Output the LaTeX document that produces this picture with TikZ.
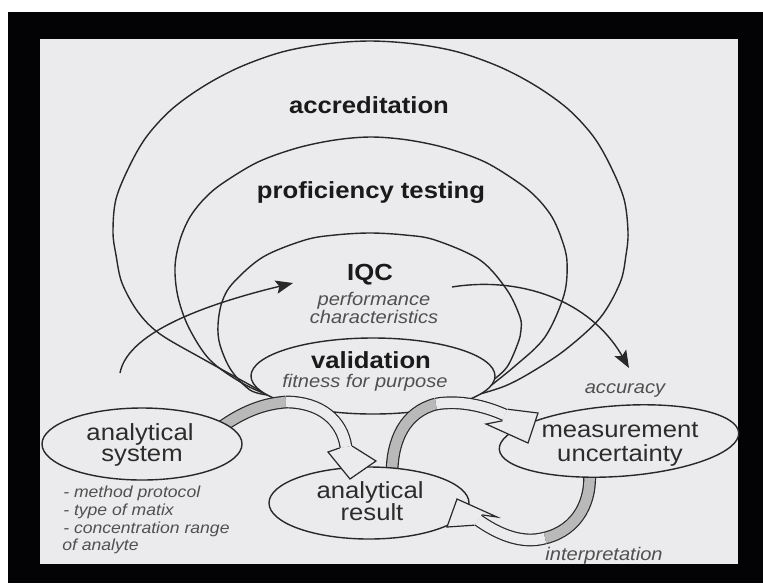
\documentclass[tikz,border=0pt]{standalone}
\usepackage{fontspec}
\setmainfont{Liberation Sans}[FakeStretch=1.1]
\usetikzlibrary{shapes.geometric, arrows.meta}

\definecolor{panel}{RGB}{235,235,237}
\definecolor{frame}{RGB}{3,3,5}
\definecolor{ink}{RGB}{40,40,40}
\definecolor{band}{RGB}{185,185,185}
\definecolor{titleink}{RGB}{26,26,26}
\definecolor{bodyink}{RGB}{44,44,44}
\definecolor{noteink}{RGB}{80,80,80}

\begin{document}
\begin{tikzpicture}[x=0.75pt, y=-0.75pt,
  ring/.style={draw=ink, line width=1.05pt},
  oval/.style={ellipse, draw=ink, fill=panel, line width=1.05pt, inner sep=0pt},
  heading/.style={font=\fontsize{17.5}{20}\selectfont\bfseries, text=titleink, anchor=base, inner sep=0pt},
  nodetext/.style={font=\fontsize{17.5}{20}\selectfont, text=bodyink, anchor=base, inner sep=0pt},
  subnote/.style={font=\fontsize{13.7}{16}\selectfont\itshape, text=noteink, anchor=base, inner sep=0pt},
  listnote/.style={font=\fontsize{12}{14}\selectfont\itshape, text=noteink, anchor=base west, inner sep=0pt},
  pointer/.style={draw=ink, line width=1.05pt, -{Stealth[length=13pt, width=10pt, inset=2.5pt]}},
  ribbon/.style={draw=ink, line width=0.9pt, double=panel, double distance=7.8pt},
  grayribbon/.style={ribbon, double=band},
  headfill/.style={fill=panel},
  headline/.style={draw=ink, line width=0.9pt, line join=miter},
]
% page, frame and panel
\useasboundingbox (0,0) rectangle (763,583);
\fill[white] (0,0) rectangle (763,583);
\fill[frame] (8,12) rectangle (763,583);
\fill[panel] (40,39) rectangle (738,564);

% nested loops meeting at the validation oval
\draw[ring] plot[smooth, tension=0.55] coordinates {
  (268,395) (250,385) (203,359) (160,334) (138,312) (122,283) (116,255)
  (113,232) (116,199) (130,165) (147,136) (172,109) (204,86) (240,67)
  (282,52) (325,44) (370,41) (415,44) (458,52) (500,67) (536,86)
  (568,109) (593,136) (610,165) (624,199) (628,232) (626,255) (620,283)
  (600,318) (565,350) (530,373) (505,386) (480,394)};
\draw[ring] plot[smooth, tension=0.55] coordinates {
  (268,395) (242,383) (210,360) (189,328) (178,297) (175,267) (180,240)
  (190,217) (205,198) (223,183) (258,162) (297,148) (335,140) (371,137)
  (408,140) (446,148) (485,162) (519,183) (537,198) (552,217) (562,240)
  (567,262) (564,295) (545,337) (515,366) (480,394)};
\draw[ring] plot[smooth, tension=0.55] coordinates {
  (268,395) (250,390) (231,370) (220,345) (218,325) (222,302) (233,283)
  (263,257) (305,240) (335,235) (370,233) (405,235) (435,240) (480,260)
  (507,290) (520,317) (521,330) (518,343) (507,367) (490,383) (480,394)};

\node[oval, minimum width=183pt, minimum height=57pt] (valid) at (373,376) {};

% thin curved arrows
\coordinate (a1s) at (120,373);
\coordinate (a1e) at (293,283);
\draw[pointer] (a1s) .. controls (128,330) and (215,302) .. (a1e);
\coordinate (a2s) at (452,287);
\coordinate (a2e) at (629,368);
\draw[pointer] (a2s) .. controls (520,276) and (590,300) .. (a2e);

% ribbon bodies: grey underside, then open top side
\draw[grayribbon] (212,434) .. controls (235,416) and (258,404) .. (286,402);
\draw[ribbon] (286,402) .. controls (320,402) and (342,420) .. (346,447);
\draw[grayribbon] (392,474) .. controls (392,440) and (405,412) .. (436,404);
\draw[ribbon] (436,404) .. controls (460,400) and (485,406) .. (505,415);
\draw[grayribbon] (589,468) .. controls (593,500) and (578,530) .. (545,538);
\draw[ribbon] (545,538) .. controls (520,545) and (495,532) .. (478,520);

% outer ovals
\node[oval, minimum width=150pt, minimum height=54pt] (sys) at (142,444) {};
\node[oval, minimum width=150pt, minimum height=54pt] (res) at (369,503) {};
\node[oval, minimum width=180pt, minimum height=53pt, rotate=4] (mu) at (619,441) {};

% ribbon heads
\fill[headfill] (339.7,447.9) -- (328,452) -- (350,479) -- (376,461) -- (352.3,446.1) -- cycle;
\draw[headline] (339.7,447.9) -- (328,452) -- (350,479) -- (376,461) -- (352.3,446.1);
\fill[headfill] (507.6,409.2) -- (538,413) -- (528,443) -- (486,424) -- (502.4,420.8) -- cycle;
\draw[headline] (507.6,409.2) -- (538,413) -- (528,443) -- (486,424) -- (502.4,420.8);
\fill[headfill] (481.7,514.8) -- (497,517) -- (457,499) -- (447,527) -- (474.3,525.2) -- cycle;
\draw[headline] (481.7,514.8) -- (497,517) -- (457,499) -- (447,527) -- (474.3,525.2);

% texts
\node[heading] (tacc) at (369,113) {accreditation};
\node[heading] (tpt) at (371,198) {proficiency testing};
\node[heading] (tiqc) at (370,280) {IQC};
\node[subnote] (tperf) at (374,305) {performance};
\node[subnote] (tchar) at (374,323) {characteristics};
\node[heading] (tval) at (371,368) {validation};
\node[subnote] (tfit) at (365,387) {fitness for purpose};

\node[nodetext] (tsys1) at (140,440) {analytical};
\node[nodetext] (tsys2) at (142,461) {system};
\node[nodetext] (tres1) at (370,498) {analytical};
\node[nodetext] (tres2) at (372,520) {result};
\node[nodetext] (tmu1) at (620,437) {measurement};
\node[nodetext] (tmu2) at (620,461) {uncertainty};

\node[subnote] (tacu) at (625,393) {accuracy};
\node[subnote] (tint) at (604,560) {interpretation};

\node[listnote] (l1) at (63,497) {- method protocol};
\node[listnote] (l2) at (63,515) {- type of matix};
\node[listnote] (l3) at (63,533) {- concentration range};
\node[listnote] (l4) at (62,550) {of analyte};
\end{tikzpicture}
\end{document}
